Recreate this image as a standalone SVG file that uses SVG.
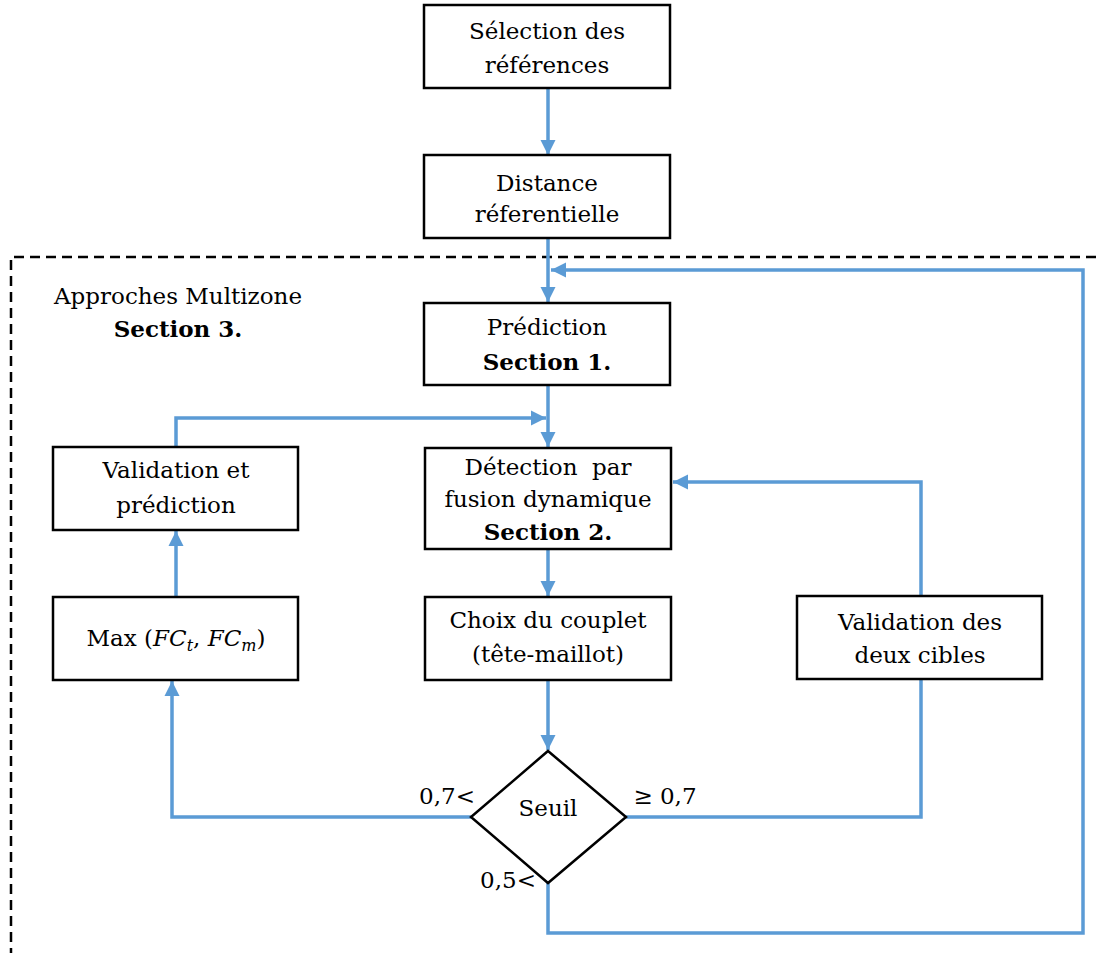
<svg xmlns="http://www.w3.org/2000/svg" width="1096" height="953" viewBox="0 0 1096 953">
<style>
.box{fill:#fff;stroke:#000;stroke-width:2.5}
.t{font-family:"DejaVu Serif","Liberation Serif",serif;font-size:23px;fill:#000;text-anchor:middle}
.b{font-weight:bold}
.c{fill:none;stroke:#5B9BD5;stroke-width:3.5}
.m{font-style:italic}
</style>
<defs>
<marker id="ah" viewBox="0 0 10 10" refX="10" refY="5" markerWidth="4.4" markerHeight="4.4" markerUnits="strokeWidth" orient="auto">
<path d="M0,0 L10,5 L0,10 z" fill="#5B9BD5"/>
</marker>
</defs>
<rect width="1096" height="953" fill="#fff"/>
<g id="zone">
<path d="M1096,257 H11 V953" fill="none" stroke="#000" stroke-width="2.5" stroke-dasharray="10,6"/>
<text class="t" x="178" y="304">Approches Multizone</text>
<text class="t b" x="178" y="337">Section 3.</text>
</g>
<g id="connectors">
<path class="c" d="M548,88 V155" marker-end="url(#ah)"/>
<path class="c" d="M548,238 V302" marker-end="url(#ah)"/>
<path class="c" d="M548,385 V447" marker-end="url(#ah)"/>
<path class="c" d="M176,447 V418 H546" marker-end="url(#ah)"/>
<path class="c" d="M548,549 V596" marker-end="url(#ah)"/>
<path class="c" d="M548,680 V750" marker-end="url(#ah)"/>
<path class="c" d="M176,597 V531" marker-end="url(#ah)"/>
<path class="c" d="M471,817 H172 V681" marker-end="url(#ah)"/>
<path class="c" d="M626,817 H921 V680"/>
<path class="c" d="M921,596 V482 H673" marker-end="url(#ah)"/>
<path class="c" d="M548,883 V933 H1083 V270 H551" marker-end="url(#ah)"/>
</g>
<g id="n1"><rect class="box" x="424" y="5" width="246" height="83"/>
<text class="t" x="547" y="39">Sélection des</text><text class="t" x="547" y="73">références</text></g>
<g id="n2"><rect class="box" x="424" y="155" width="246" height="83"/>
<text class="t" x="547" y="191">Distance</text><text class="t" x="547" y="222">réferentielle</text></g>
<g id="n3"><rect class="box" x="424" y="303" width="246" height="82"/>
<text class="t" x="547" y="335">Prédiction</text><text class="t b" x="547" y="370">Section 1.</text></g>
<g id="n4"><rect class="box" x="425" y="448" width="246" height="101"/>
<text class="t" x="548" y="475" xml:space="preserve">Détection  par</text><text class="t" x="548" y="507">fusion dynamique</text><text class="t b" x="548" y="540">Section 2.</text></g>
<g id="n5"><rect class="box" x="53" y="447" width="245" height="83"/>
<text class="t" x="176" y="478">Validation et</text><text class="t" x="176" y="513">prédiction</text></g>
<g id="n6"><rect class="box" x="53" y="597" width="245" height="83"/>
<text class="t" x="176" y="646">Max (<tspan class="m">FC</tspan><tspan class="m" font-size="16" dy="5">t</tspan><tspan dy="-5">, </tspan><tspan class="m">FC</tspan><tspan class="m" font-size="16" dy="5">m</tspan><tspan dy="-5">)</tspan></text></g>
<g id="n7"><rect class="box" x="425" y="597" width="246" height="83"/>
<text class="t" x="548" y="628">Choix du couplet</text><text class="t" x="548" y="662">(tête-maillot)</text></g>
<g id="n8"><rect class="box" x="797" y="596" width="245" height="83"/>
<text class="t" x="920" y="630">Validation des</text><text class="t" x="920" y="663">deux cibles</text></g>
<g id="n9"><path class="box" d="M548,751 L626,817 L548,883 L471,817 Z"/>
<text class="t" x="548" y="816">Seuil</text></g>
<g id="labels">
<text class="t" x="447" y="804">0,7&lt;</text>
<text class="t" x="665" y="804">≥ 0,7</text>
<text class="t" x="508" y="888">0,5&lt;</text>
</g>
</svg>
